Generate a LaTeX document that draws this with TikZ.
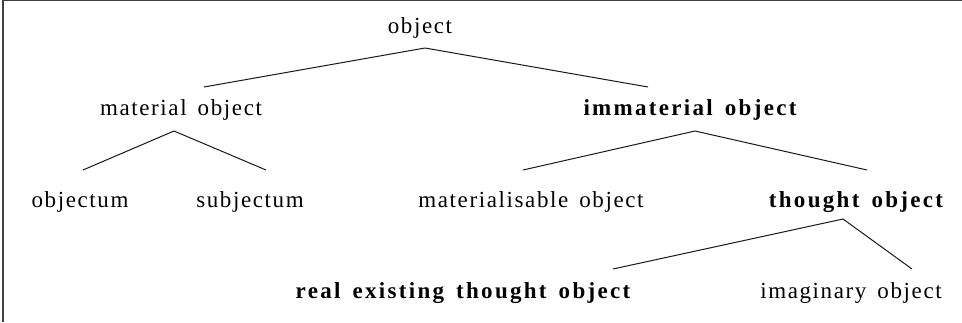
\documentclass[tikz,border=0pt]{standalone}
\usepackage{fontspec}
\setmainfont{Liberation Serif}[LetterSpace=7, WordSpace=1.5, BoldFeatures={LetterSpace=10}]
\usetikzlibrary{calc}

\begin{document}
\begin{tikzpicture}[
    x=0.5pt, y=-0.5pt,
    term/.style={anchor=base, inner sep=0pt, font=\fontsize{11.5}{13}\selectfont},
    keyterm/.style={term, font=\fontsize{11.5}{13}\selectfont\bfseries},
    branch/.style={line width=0.5pt, draw=black!90},
    frame/.style={line width=0.9pt, draw=black!75}
]
\useasboundingbox (0,0) rectangle (962,322);

% 0. Frame (top and left edge only)
\draw[frame] (3,322) -- (3,0.5) -- (962,0.5);

% 1. Root
\node[term] (root) at (420,33) {object};

% 2. Second level
\node[term] (mat) at (181,115) {material object};
\node[keyterm] (immat) at (690,115) {immaterial object};

% 3. Third level
\node[term] (objectum) at (80,207) {objectum};
\node[term] (subjectum) at (250,207) {subjectum};
\node[term] (matable) at (531,207) {materialisable object};
\node[keyterm] (thought) at (856,207) {thought object};

% 4. Fourth level
\node[keyterm] (real) at (463,298) {real existing thought object};
\node[term] (imag) at (851,298) {imaginary object};

% 5. Branches
\draw[branch] ($(root.base)+(5,15)$) -- ($(mat.base)+(23,-28)$);
\draw[branch] ($(root.base)+(5,15)$) -- ($(immat.base)+(-42,-28)$);

\draw[branch] ($(mat.base)+(-7,16)$) -- ($(objectum.base)+(3,-37)$);
\draw[branch] ($(mat.base)+(-7,16)$) -- ($(subjectum.base)+(16,-37)$);

\draw[branch] ($(immat.base)+(5,16)$) -- ($(matable.base)+(-8,-37)$);
\draw[branch] ($(immat.base)+(5,16)$) -- ($(thought.base)+(11,-37)$);

\draw[branch] ($(thought.base)+(-13,12)$) -- ($(real.base)+(150,-29)$);
\draw[branch] ($(thought.base)+(-13,12)$) -- ($(imag.base)+(61,-29)$);

\end{tikzpicture}
\end{document}
